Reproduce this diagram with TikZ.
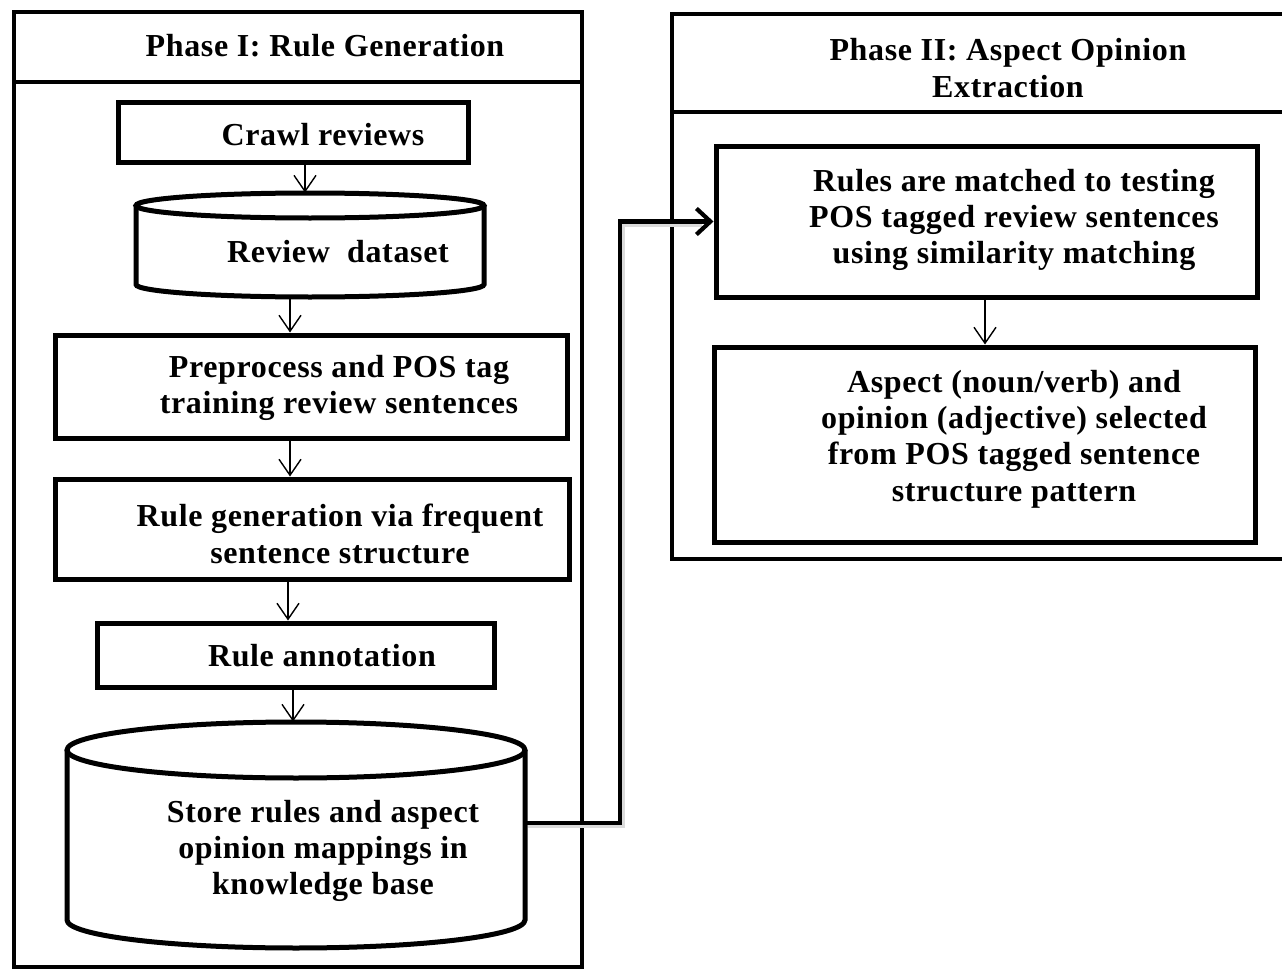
\documentclass[tikz,border=0pt]{standalone}
\usepackage{fontspec}
\setmainfont{Liberation Serif}[LetterSpace=2]
\usetikzlibrary{arrows.meta,fit}
\begin{document}
\begin{tikzpicture}[x=0.5pt,y=-0.5pt,
  frame/.style={line width=2.3pt},
  box/.style={draw,line width=2.5pt,inner sep=0pt},
  area/.style={inner sep=0pt},
  cyl/.style={line width=2.5pt},
  txt/.style={font=\fontsize{16}{18.2}\selectfont\bfseries,align=center,inner sep=0pt},
  arr/.style={-{Straight Barb[length=8pt,width=11pt]},line width=0.7pt},
  conn/.style={line width=2.1pt,-{Straight Barb[length=7pt,width=13pt,line width=2.1pt]}},
  connshadow/.style={line width=2.4pt,draw=black!14}
]
\useasboundingbox (0,0) rectangle (1282,969);
\fill[white] (0,0) rectangle (1282,969);

% ---------- Phase I frame ----------
\draw[frame] (14,12) rectangle (582,967);
\draw[frame] (14,82) -- (582,82);
\node[txt] (t1) at (325,46) {Phase I: Rule Generation};

% ---------- Phase II frame ----------
\draw[frame] (1282,14) -- (672,14) -- (672,559) -- (1282,559);
\draw[frame] (672,112) -- (1282,112);
\node[txt] (t2) at (1008,68) {Phase II: Aspect Opinion\\Extraction};

% ---------- Phase I steps ----------
\node[box, fit={(118,102) (468,162)}] (crawl) {};
\node[txt] (crawlT) at (323,135) {Crawl reviews};

\node[area, fit={(136,193) (484,297)}] (ds) {};
\draw[cyl] (310,205.5) ellipse [x radius=174, y radius=12.5];
\draw[cyl] (136,205.5) -- (136,284.5) arc[start angle=180,end angle=0,x radius=174,y radius=12.5] -- (484,205.5);
\node[txt] (dsT) at (338,252) {Review\ \ dataset};

\node[box, fit={(55,335) (567,438)}] (pre) {};
\node[txt] (preT) at (339,388) {Preprocess and POS tag\\training review sentences};

\node[box, fit={(55,479) (569,579)}] (gen) {};
\node[txt] (genT) at (340,534) {Rule generation via frequent\\sentence structure};

\node[box, fit={(97,623) (494,687)}] (ann) {};
\node[txt] (annT) at (322,656) {Rule annotation};

\node[area, fit={(67,722) (525,948)}] (store) {};
\draw[cyl] (296,750) ellipse [x radius=229, y radius=28];
\draw[cyl] (67,750) -- (67,920) arc[start angle=180,end angle=0,x radius=229,y radius=28] -- (525,750);
\node[txt] (storeT) at (323,851) {Store rules and aspect\\opinion mappings in\\knowledge base};

% ---------- Phase II steps ----------
\node[box, fit={(716,146) (1257,297)}] (m1) {};
\node[txt] (m1T) at (1014,220) {Rules are matched to testing\\POS tagged review sentences\\using similarity matching};

\node[box, fit={(714,347) (1255,542)}] (m2) {};
\node[txt] (m2T) at (1014,439) {Aspect (noun/verb) and\\opinion (adjective) selected\\from POS tagged sentence\\structure pattern};

% ---------- small arrows ----------
\coordinate (a1) at ([xshift=6pt]crawl.south);
\draw[arr] (a1) -- (a1 |- ds.north);
\coordinate (a2) at ([xshift=-10pt]ds.south);
\draw[arr] (a2) -- (a2 |- pre.north);
\coordinate (a3) at ([xshift=-10.5pt]pre.south);
\draw[arr] (a3) -- (a3 |- gen.north);
\coordinate (a4) at ([xshift=-12pt]gen.south);
\draw[arr] (a4) -- (a4 |- ann.north);
\coordinate (a5) at ([xshift=-1.25pt]ann.south);
\draw[arr] (a5) -- (a5 |- store.north);
\coordinate (a6) at ([xshift=-0.75pt]m1.south);
\draw[arr] (a6) -- (a6 |- m2.north);

% ---------- connector between phases ----------
\coordinate (sout) at ([yshift=6pt]store.east);
\coordinate (bendx) at (620,0);
\coordinate (shA) at ([shift={(1.5pt,-1.5pt)}]sout);
\coordinate (shB) at ([shift={(1.5pt,0pt)}]bendx);
\coordinate (shC) at ([shift={(-6pt,-1.5pt)}]m1.west);
\draw[connshadow] (shA) -- (shA -| shB) |- (shC);
\draw[conn] (sout) -- (sout -| bendx) |- (m1.west);
\end{tikzpicture}
\end{document}
